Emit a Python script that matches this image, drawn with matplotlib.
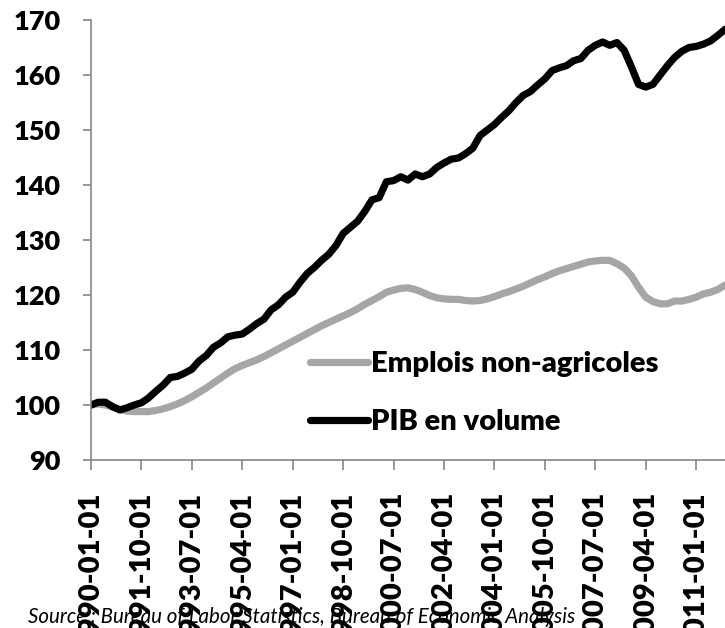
import matplotlib
matplotlib.use('Agg')
import matplotlib.pyplot as plt
import pandas as pd

# Indices trimestriels, base 100 = 1990-01-01
trimestres = pd.date_range('1990-01-01', periods=89, freq='QS').strftime('%Y-%m-%d').tolist()

emplois = [100.0, 100.2, 100.0, 99.6, 99.2, 98.9, 98.8, 98.8, 98.8, 99.0,
           99.3, 99.7, 100.2, 100.8, 101.5, 102.3, 103.1, 104.0, 104.9, 105.8,
           106.6, 107.2, 107.7, 108.2, 108.8, 109.5, 110.2, 110.9, 111.6, 112.3,
           113.0, 113.7, 114.4, 115.0, 115.6, 116.2, 116.8, 117.5, 118.3, 119.0,
           119.7, 120.5, 120.9, 121.2, 121.3, 121.0, 120.5, 119.9, 119.5, 119.3,
           119.2, 119.2, 119.0, 118.9, 119.0, 119.3, 119.7, 120.2, 120.6, 121.1,
           121.6, 122.2, 122.8, 123.3, 123.9, 124.4, 124.8, 125.2, 125.6, 126.0,
           126.2, 126.3, 126.3, 125.7, 124.9, 123.5, 121.4, 119.6, 118.8, 118.4,
           118.4, 118.9, 118.9, 119.2, 119.6, 120.2, 120.5, 121.0, 121.8]

pib = [100.0, 100.5, 100.5, 99.7, 99.1, 99.5, 100.0, 100.4, 101.3, 102.5,
       103.6, 105.0, 105.2, 105.8, 106.5, 108.0, 109.0, 110.5, 111.3, 112.4,
       112.7, 112.9, 113.8, 114.8, 115.6, 117.3, 118.2, 119.6, 120.5, 122.3,
       123.9, 125.0, 126.3, 127.4, 129.0, 131.2, 132.3, 133.4, 135.2, 137.3,
       137.7, 140.6, 140.8, 141.5, 140.9, 142.0, 141.5, 142.0, 143.2, 144.0,
       144.7, 144.9, 145.7, 146.7, 149.0, 150.0, 151.0, 152.3, 153.5, 155.0,
       156.3, 157.0, 158.2, 159.3, 160.8, 161.3, 161.7, 162.6, 163.0, 164.5,
       165.4, 166.0, 165.4, 165.9, 164.5, 161.5, 158.3, 157.8, 158.3, 160.0,
       161.7, 163.2, 164.3, 165.0, 165.2, 165.6, 166.2, 167.2, 168.3]

plt.rcParams['font.family'] = ['Lato', 'DejaVu Sans']

fig = plt.figure(figsize=(7.25, 6.28), dpi=100)
ax = fig.add_axes([91 / 725, 1 - 460 / 628, 1 - 91 / 725, 440 / 628])

x = list(range(len(trimestres)))
ax.plot(x, emplois, color='#a6a6a6', linewidth=5.2, solid_capstyle='round',
        label='Emplois non-agricoles')
ax.plot(x, pib, color='black', linewidth=5.2, solid_capstyle='round',
        label='PIB en volume')

ax.set_xlim(0, len(trimestres) - 1)
ax.set_ylim(90, 170)
ax.set_yticks(range(90, 171, 10))
ax.set_xticks(x[::7])
ax.set_xticklabels(trimestres[::7], rotation=90, va='top', ha='center')

for s in ['top', 'right']:
    ax.spines[s].set_visible(False)
for s in ['left', 'bottom']:
    ax.spines[s].set_color('#868686')
    ax.spines[s].set_linewidth(1.2)

ax.tick_params(axis='y', direction='out', length=6, width=1.2, color='#868686',
               pad=16, labelsize=19.5)
ax.tick_params(axis='x', direction='out', length=7, width=1.2, color='#868686',
               pad=16, labelsize=21)
for lab in ax.get_xticklabels() + ax.get_yticklabels():
    lab.set_fontweight('heavy')

leg = ax.legend(loc='upper left', bbox_to_anchor=(219 / 634, 1 - 331 / 440),
                frameon=False, handlelength=2.0, handletextpad=0.1,
                labelspacing=1.1, borderaxespad=0, borderpad=0,
                prop={'size': 21, 'weight': 'heavy'})

fig.text(28 / 725, 1 - 623 / 628,
         'Source : Bureau of Labor Statistics, Bureau of Economic Analysis',
         fontsize=14.8, style='italic', va='baseline', ha='left', color='black')

fig.savefig('out.png', dpi=100)
